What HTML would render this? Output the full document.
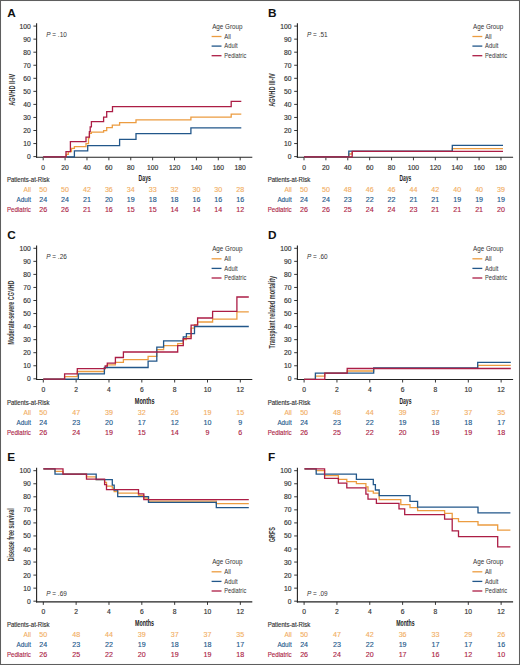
<!DOCTYPE html><html><head><meta charset="utf-8"><style>html,body{margin:0;padding:0;background:#fff;}svg{display:block;}text{font-family:"Liberation Sans", sans-serif;}</style></head><body>
<svg width="520" height="665" viewBox="0 0 520 665">
<rect x="0" y="0" width="520" height="665" fill="#fff"/>
<text x="7.30" y="16.70" font-size="11.8" text-anchor="start" fill="#111" font-weight="bold">A</text>
<line x1="36.60" y1="23.20" x2="36.60" y2="157.80" stroke="#222" stroke-width="1.1"/>
<line x1="33.40" y1="26.10" x2="36.60" y2="26.10" stroke="#222" stroke-width="0.9"/>
<text x="30.80" y="28.60" font-size="6.5" text-anchor="end" fill="#333" textLength="11.25" lengthAdjust="spacingAndGlyphs" stroke="#333" stroke-width="0.15">100</text>
<line x1="33.40" y1="39.15" x2="36.60" y2="39.15" stroke="#222" stroke-width="0.9"/>
<text x="30.80" y="41.65" font-size="6.5" text-anchor="end" fill="#333" textLength="7.50" lengthAdjust="spacingAndGlyphs" stroke="#333" stroke-width="0.15">90</text>
<line x1="33.40" y1="52.20" x2="36.60" y2="52.20" stroke="#222" stroke-width="0.9"/>
<text x="30.80" y="54.70" font-size="6.5" text-anchor="end" fill="#333" textLength="7.50" lengthAdjust="spacingAndGlyphs" stroke="#333" stroke-width="0.15">80</text>
<line x1="33.40" y1="65.25" x2="36.60" y2="65.25" stroke="#222" stroke-width="0.9"/>
<text x="30.80" y="67.75" font-size="6.5" text-anchor="end" fill="#333" textLength="7.50" lengthAdjust="spacingAndGlyphs" stroke="#333" stroke-width="0.15">70</text>
<line x1="33.40" y1="78.30" x2="36.60" y2="78.30" stroke="#222" stroke-width="0.9"/>
<text x="30.80" y="80.80" font-size="6.5" text-anchor="end" fill="#333" textLength="7.50" lengthAdjust="spacingAndGlyphs" stroke="#333" stroke-width="0.15">60</text>
<line x1="33.40" y1="91.35" x2="36.60" y2="91.35" stroke="#222" stroke-width="0.9"/>
<text x="30.80" y="93.85" font-size="6.5" text-anchor="end" fill="#333" textLength="7.50" lengthAdjust="spacingAndGlyphs" stroke="#333" stroke-width="0.15">50</text>
<line x1="33.40" y1="104.40" x2="36.60" y2="104.40" stroke="#222" stroke-width="0.9"/>
<text x="30.80" y="106.90" font-size="6.5" text-anchor="end" fill="#333" textLength="7.50" lengthAdjust="spacingAndGlyphs" stroke="#333" stroke-width="0.15">40</text>
<line x1="33.40" y1="117.45" x2="36.60" y2="117.45" stroke="#222" stroke-width="0.9"/>
<text x="30.80" y="119.95" font-size="6.5" text-anchor="end" fill="#333" textLength="7.50" lengthAdjust="spacingAndGlyphs" stroke="#333" stroke-width="0.15">30</text>
<line x1="33.40" y1="130.50" x2="36.60" y2="130.50" stroke="#222" stroke-width="0.9"/>
<text x="30.80" y="133.00" font-size="6.5" text-anchor="end" fill="#333" textLength="7.50" lengthAdjust="spacingAndGlyphs" stroke="#333" stroke-width="0.15">20</text>
<line x1="33.40" y1="143.55" x2="36.60" y2="143.55" stroke="#222" stroke-width="0.9"/>
<text x="30.80" y="146.05" font-size="6.5" text-anchor="end" fill="#333" textLength="7.50" lengthAdjust="spacingAndGlyphs" stroke="#333" stroke-width="0.15">10</text>
<line x1="33.40" y1="156.60" x2="36.60" y2="156.60" stroke="#222" stroke-width="0.9"/>
<text x="30.80" y="159.10" font-size="6.5" text-anchor="end" fill="#333" textLength="3.75" lengthAdjust="spacingAndGlyphs" stroke="#333" stroke-width="0.15">0</text>
<line x1="36.10" y1="157.30" x2="252.30" y2="157.30" stroke="#222" stroke-width="1.1"/>
<line x1="43.20" y1="157.30" x2="43.20" y2="160.30" stroke="#222" stroke-width="0.9"/>
<text x="43.20" y="170.00" font-size="6.5" text-anchor="middle" fill="#333" textLength="3.75" lengthAdjust="spacingAndGlyphs" stroke="#333" stroke-width="0.15">0</text>
<line x1="65.09" y1="157.30" x2="65.09" y2="160.30" stroke="#222" stroke-width="0.9"/>
<text x="65.09" y="170.00" font-size="6.5" text-anchor="middle" fill="#333" textLength="7.50" lengthAdjust="spacingAndGlyphs" stroke="#333" stroke-width="0.15">20</text>
<line x1="86.98" y1="157.30" x2="86.98" y2="160.30" stroke="#222" stroke-width="0.9"/>
<text x="86.98" y="170.00" font-size="6.5" text-anchor="middle" fill="#333" textLength="7.50" lengthAdjust="spacingAndGlyphs" stroke="#333" stroke-width="0.15">40</text>
<line x1="108.86" y1="157.30" x2="108.86" y2="160.30" stroke="#222" stroke-width="0.9"/>
<text x="108.86" y="170.00" font-size="6.5" text-anchor="middle" fill="#333" textLength="7.50" lengthAdjust="spacingAndGlyphs" stroke="#333" stroke-width="0.15">60</text>
<line x1="130.75" y1="157.30" x2="130.75" y2="160.30" stroke="#222" stroke-width="0.9"/>
<text x="130.75" y="170.00" font-size="6.5" text-anchor="middle" fill="#333" textLength="7.50" lengthAdjust="spacingAndGlyphs" stroke="#333" stroke-width="0.15">80</text>
<line x1="152.64" y1="157.30" x2="152.64" y2="160.30" stroke="#222" stroke-width="0.9"/>
<text x="152.64" y="170.00" font-size="6.5" text-anchor="middle" fill="#333" textLength="11.25" lengthAdjust="spacingAndGlyphs" stroke="#333" stroke-width="0.15">100</text>
<line x1="174.53" y1="157.30" x2="174.53" y2="160.30" stroke="#222" stroke-width="0.9"/>
<text x="174.53" y="170.00" font-size="6.5" text-anchor="middle" fill="#333" textLength="11.25" lengthAdjust="spacingAndGlyphs" stroke="#333" stroke-width="0.15">120</text>
<line x1="196.42" y1="157.30" x2="196.42" y2="160.30" stroke="#222" stroke-width="0.9"/>
<text x="196.42" y="170.00" font-size="6.5" text-anchor="middle" fill="#333" textLength="11.25" lengthAdjust="spacingAndGlyphs" stroke="#333" stroke-width="0.15">140</text>
<line x1="218.30" y1="157.30" x2="218.30" y2="160.30" stroke="#222" stroke-width="0.9"/>
<text x="218.30" y="170.00" font-size="6.5" text-anchor="middle" fill="#333" textLength="11.25" lengthAdjust="spacingAndGlyphs" stroke="#333" stroke-width="0.15">160</text>
<line x1="240.19" y1="157.30" x2="240.19" y2="160.30" stroke="#222" stroke-width="0.9"/>
<text x="240.19" y="170.00" font-size="6.5" text-anchor="middle" fill="#333" textLength="11.25" lengthAdjust="spacingAndGlyphs" stroke="#333" stroke-width="0.15">180</text>
<text x="138.60" y="181.30" font-size="8.4" text-anchor="start" fill="#222" font-weight="bold" textLength="12.40" lengthAdjust="spacingAndGlyphs">Days</text>
<text transform="translate(14.50,89.75) rotate(-90)" x="0" y="0" font-size="8.6" font-weight="bold" text-anchor="middle" fill="#3a3a3a" textLength="32.10" lengthAdjust="spacingAndGlyphs">AGVHD II-IV</text>
<text x="46.20" y="36.90" font-size="6.7" fill="#333" textLength="20.6" lengthAdjust="spacingAndGlyphs"><tspan font-style="italic">P</tspan> = .10</text>
<text x="212.20" y="28.70" font-size="6.5" text-anchor="start" fill="#333" textLength="30.30" lengthAdjust="spacingAndGlyphs">Age Group</text>
<line x1="211.60" y1="36.50" x2="221.50" y2="36.50" stroke="#EC9C40" stroke-width="1.3"/>
<text x="224.30" y="38.70" font-size="6.6" text-anchor="start" fill="#333" textLength="6.60" lengthAdjust="spacingAndGlyphs">All</text>
<line x1="211.60" y1="46.10" x2="221.50" y2="46.10" stroke="#22578A" stroke-width="1.3"/>
<text x="224.30" y="48.30" font-size="6.6" text-anchor="start" fill="#333" textLength="13.30" lengthAdjust="spacingAndGlyphs">Adult</text>
<line x1="211.60" y1="55.70" x2="221.50" y2="55.70" stroke="#AC1D45" stroke-width="1.3"/>
<text x="224.30" y="57.90" font-size="6.6" text-anchor="start" fill="#333" textLength="22.00" lengthAdjust="spacingAndGlyphs">Pediatric</text>
<text x="6.90" y="181.80" font-size="6.4" text-anchor="start" fill="#333" textLength="42.70" lengthAdjust="spacingAndGlyphs" stroke="#333" stroke-width="0.15">Patients-at-Risk</text>
<text x="30.90" y="191.70" font-size="6.6" text-anchor="end" fill="#F2AE62" textLength="7.30" lengthAdjust="spacingAndGlyphs" stroke="#F2AE62" stroke-width="0.12">All</text>
<text x="43.20" y="191.70" font-size="6.4" text-anchor="middle" fill="#F2AE62" textLength="7.90" lengthAdjust="spacingAndGlyphs" stroke="#F2AE62" stroke-width="0.12">50</text>
<text x="65.09" y="191.70" font-size="6.4" text-anchor="middle" fill="#F2AE62" textLength="7.90" lengthAdjust="spacingAndGlyphs" stroke="#F2AE62" stroke-width="0.12">50</text>
<text x="86.98" y="191.70" font-size="6.4" text-anchor="middle" fill="#F2AE62" textLength="7.90" lengthAdjust="spacingAndGlyphs" stroke="#F2AE62" stroke-width="0.12">42</text>
<text x="108.86" y="191.70" font-size="6.4" text-anchor="middle" fill="#F2AE62" textLength="7.90" lengthAdjust="spacingAndGlyphs" stroke="#F2AE62" stroke-width="0.12">36</text>
<text x="130.75" y="191.70" font-size="6.4" text-anchor="middle" fill="#F2AE62" textLength="7.90" lengthAdjust="spacingAndGlyphs" stroke="#F2AE62" stroke-width="0.12">34</text>
<text x="152.64" y="191.70" font-size="6.4" text-anchor="middle" fill="#F2AE62" textLength="7.90" lengthAdjust="spacingAndGlyphs" stroke="#F2AE62" stroke-width="0.12">33</text>
<text x="174.53" y="191.70" font-size="6.4" text-anchor="middle" fill="#F2AE62" textLength="7.90" lengthAdjust="spacingAndGlyphs" stroke="#F2AE62" stroke-width="0.12">32</text>
<text x="196.42" y="191.70" font-size="6.4" text-anchor="middle" fill="#F2AE62" textLength="7.90" lengthAdjust="spacingAndGlyphs" stroke="#F2AE62" stroke-width="0.12">30</text>
<text x="218.30" y="191.70" font-size="6.4" text-anchor="middle" fill="#F2AE62" textLength="7.90" lengthAdjust="spacingAndGlyphs" stroke="#F2AE62" stroke-width="0.12">30</text>
<text x="240.19" y="191.70" font-size="6.4" text-anchor="middle" fill="#F2AE62" textLength="7.90" lengthAdjust="spacingAndGlyphs" stroke="#F2AE62" stroke-width="0.12">28</text>
<text x="30.90" y="201.75" font-size="6.6" text-anchor="end" fill="#22578A" textLength="14.30" lengthAdjust="spacingAndGlyphs" stroke="#22578A" stroke-width="0.12">Adult</text>
<text x="43.20" y="201.75" font-size="6.4" text-anchor="middle" fill="#22578A" textLength="7.90" lengthAdjust="spacingAndGlyphs" stroke="#22578A" stroke-width="0.12">24</text>
<text x="65.09" y="201.75" font-size="6.4" text-anchor="middle" fill="#22578A" textLength="7.90" lengthAdjust="spacingAndGlyphs" stroke="#22578A" stroke-width="0.12">24</text>
<text x="86.98" y="201.75" font-size="6.4" text-anchor="middle" fill="#22578A" textLength="7.90" lengthAdjust="spacingAndGlyphs" stroke="#22578A" stroke-width="0.12">21</text>
<text x="108.86" y="201.75" font-size="6.4" text-anchor="middle" fill="#22578A" textLength="7.90" lengthAdjust="spacingAndGlyphs" stroke="#22578A" stroke-width="0.12">20</text>
<text x="130.75" y="201.75" font-size="6.4" text-anchor="middle" fill="#22578A" textLength="7.90" lengthAdjust="spacingAndGlyphs" stroke="#22578A" stroke-width="0.12">19</text>
<text x="152.64" y="201.75" font-size="6.4" text-anchor="middle" fill="#22578A" textLength="7.90" lengthAdjust="spacingAndGlyphs" stroke="#22578A" stroke-width="0.12">18</text>
<text x="174.53" y="201.75" font-size="6.4" text-anchor="middle" fill="#22578A" textLength="7.90" lengthAdjust="spacingAndGlyphs" stroke="#22578A" stroke-width="0.12">18</text>
<text x="196.42" y="201.75" font-size="6.4" text-anchor="middle" fill="#22578A" textLength="7.90" lengthAdjust="spacingAndGlyphs" stroke="#22578A" stroke-width="0.12">16</text>
<text x="218.30" y="201.75" font-size="6.4" text-anchor="middle" fill="#22578A" textLength="7.90" lengthAdjust="spacingAndGlyphs" stroke="#22578A" stroke-width="0.12">16</text>
<text x="240.19" y="201.75" font-size="6.4" text-anchor="middle" fill="#22578A" textLength="7.90" lengthAdjust="spacingAndGlyphs" stroke="#22578A" stroke-width="0.12">16</text>
<text x="30.90" y="211.80" font-size="6.6" text-anchor="end" fill="#AC1D45" textLength="24.00" lengthAdjust="spacingAndGlyphs" stroke="#AC1D45" stroke-width="0.12">Pediatric</text>
<text x="43.20" y="211.80" font-size="6.4" text-anchor="middle" fill="#AC1D45" textLength="7.90" lengthAdjust="spacingAndGlyphs" stroke="#AC1D45" stroke-width="0.12">26</text>
<text x="65.09" y="211.80" font-size="6.4" text-anchor="middle" fill="#AC1D45" textLength="7.90" lengthAdjust="spacingAndGlyphs" stroke="#AC1D45" stroke-width="0.12">26</text>
<text x="86.98" y="211.80" font-size="6.4" text-anchor="middle" fill="#AC1D45" textLength="7.90" lengthAdjust="spacingAndGlyphs" stroke="#AC1D45" stroke-width="0.12">21</text>
<text x="108.86" y="211.80" font-size="6.4" text-anchor="middle" fill="#AC1D45" textLength="7.90" lengthAdjust="spacingAndGlyphs" stroke="#AC1D45" stroke-width="0.12">16</text>
<text x="130.75" y="211.80" font-size="6.4" text-anchor="middle" fill="#AC1D45" textLength="7.90" lengthAdjust="spacingAndGlyphs" stroke="#AC1D45" stroke-width="0.12">15</text>
<text x="152.64" y="211.80" font-size="6.4" text-anchor="middle" fill="#AC1D45" textLength="7.90" lengthAdjust="spacingAndGlyphs" stroke="#AC1D45" stroke-width="0.12">15</text>
<text x="174.53" y="211.80" font-size="6.4" text-anchor="middle" fill="#AC1D45" textLength="7.90" lengthAdjust="spacingAndGlyphs" stroke="#AC1D45" stroke-width="0.12">14</text>
<text x="196.42" y="211.80" font-size="6.4" text-anchor="middle" fill="#AC1D45" textLength="7.90" lengthAdjust="spacingAndGlyphs" stroke="#AC1D45" stroke-width="0.12">14</text>
<text x="218.30" y="211.80" font-size="6.4" text-anchor="middle" fill="#AC1D45" textLength="7.90" lengthAdjust="spacingAndGlyphs" stroke="#AC1D45" stroke-width="0.12">14</text>
<text x="240.19" y="211.80" font-size="6.4" text-anchor="middle" fill="#AC1D45" textLength="7.90" lengthAdjust="spacingAndGlyphs" stroke="#AC1D45" stroke-width="0.12">12</text>
<path d="M43.20,156.90 H66.30 V154.40 H68.30 V151.70 H71.50 V148.30 H74.40 V146.60 H86.00 V143.70 H88.50 V137.90 H89.40 V133.30 H91.40 V132.10 H103.60 V130.60 H106.70 V127.70 H112.30 V125.10 H119.60 V122.70 H136.00 V119.80 H190.90 V117.20 H231.20 V114.10 H241.30" fill="none" stroke="#EC9C40" stroke-width="1.3" stroke-linejoin="miter"/>
<path d="M43.20,156.90 H74.40 V150.80 H87.70 V145.70 H119.60 V139.40 H136.00 V133.70 H190.90 V127.90 H241.30" fill="none" stroke="#22578A" stroke-width="1.3" stroke-linejoin="miter"/>
<path d="M43.20,156.90 H66.00 V151.70 H70.40 V141.60 H86.00 V137.10 H89.40 V131.60 H90.20 V126.90 H91.40 V121.70 H103.60 V117.10 H106.70 V111.70 H112.50 V106.60 H231.20 V101.40 H241.30" fill="none" stroke="#AC1D45" stroke-width="1.3" stroke-linejoin="miter"/>
<text x="268.10" y="16.70" font-size="11.8" text-anchor="start" fill="#111" font-weight="bold">B</text>
<line x1="297.40" y1="23.20" x2="297.40" y2="157.80" stroke="#222" stroke-width="1.1"/>
<line x1="294.20" y1="26.10" x2="297.40" y2="26.10" stroke="#222" stroke-width="0.9"/>
<text x="291.60" y="28.60" font-size="6.5" text-anchor="end" fill="#333" textLength="11.25" lengthAdjust="spacingAndGlyphs" stroke="#333" stroke-width="0.15">100</text>
<line x1="294.20" y1="39.15" x2="297.40" y2="39.15" stroke="#222" stroke-width="0.9"/>
<text x="291.60" y="41.65" font-size="6.5" text-anchor="end" fill="#333" textLength="7.50" lengthAdjust="spacingAndGlyphs" stroke="#333" stroke-width="0.15">90</text>
<line x1="294.20" y1="52.20" x2="297.40" y2="52.20" stroke="#222" stroke-width="0.9"/>
<text x="291.60" y="54.70" font-size="6.5" text-anchor="end" fill="#333" textLength="7.50" lengthAdjust="spacingAndGlyphs" stroke="#333" stroke-width="0.15">80</text>
<line x1="294.20" y1="65.25" x2="297.40" y2="65.25" stroke="#222" stroke-width="0.9"/>
<text x="291.60" y="67.75" font-size="6.5" text-anchor="end" fill="#333" textLength="7.50" lengthAdjust="spacingAndGlyphs" stroke="#333" stroke-width="0.15">70</text>
<line x1="294.20" y1="78.30" x2="297.40" y2="78.30" stroke="#222" stroke-width="0.9"/>
<text x="291.60" y="80.80" font-size="6.5" text-anchor="end" fill="#333" textLength="7.50" lengthAdjust="spacingAndGlyphs" stroke="#333" stroke-width="0.15">60</text>
<line x1="294.20" y1="91.35" x2="297.40" y2="91.35" stroke="#222" stroke-width="0.9"/>
<text x="291.60" y="93.85" font-size="6.5" text-anchor="end" fill="#333" textLength="7.50" lengthAdjust="spacingAndGlyphs" stroke="#333" stroke-width="0.15">50</text>
<line x1="294.20" y1="104.40" x2="297.40" y2="104.40" stroke="#222" stroke-width="0.9"/>
<text x="291.60" y="106.90" font-size="6.5" text-anchor="end" fill="#333" textLength="7.50" lengthAdjust="spacingAndGlyphs" stroke="#333" stroke-width="0.15">40</text>
<line x1="294.20" y1="117.45" x2="297.40" y2="117.45" stroke="#222" stroke-width="0.9"/>
<text x="291.60" y="119.95" font-size="6.5" text-anchor="end" fill="#333" textLength="7.50" lengthAdjust="spacingAndGlyphs" stroke="#333" stroke-width="0.15">30</text>
<line x1="294.20" y1="130.50" x2="297.40" y2="130.50" stroke="#222" stroke-width="0.9"/>
<text x="291.60" y="133.00" font-size="6.5" text-anchor="end" fill="#333" textLength="7.50" lengthAdjust="spacingAndGlyphs" stroke="#333" stroke-width="0.15">20</text>
<line x1="294.20" y1="143.55" x2="297.40" y2="143.55" stroke="#222" stroke-width="0.9"/>
<text x="291.60" y="146.05" font-size="6.5" text-anchor="end" fill="#333" textLength="7.50" lengthAdjust="spacingAndGlyphs" stroke="#333" stroke-width="0.15">10</text>
<line x1="294.20" y1="156.60" x2="297.40" y2="156.60" stroke="#222" stroke-width="0.9"/>
<text x="291.60" y="159.10" font-size="6.5" text-anchor="end" fill="#333" textLength="3.75" lengthAdjust="spacingAndGlyphs" stroke="#333" stroke-width="0.15">0</text>
<line x1="296.90" y1="157.30" x2="513.10" y2="157.30" stroke="#222" stroke-width="1.1"/>
<line x1="304.00" y1="157.30" x2="304.00" y2="160.30" stroke="#222" stroke-width="0.9"/>
<text x="304.00" y="170.00" font-size="6.5" text-anchor="middle" fill="#333" textLength="3.75" lengthAdjust="spacingAndGlyphs" stroke="#333" stroke-width="0.15">0</text>
<line x1="325.89" y1="157.30" x2="325.89" y2="160.30" stroke="#222" stroke-width="0.9"/>
<text x="325.89" y="170.00" font-size="6.5" text-anchor="middle" fill="#333" textLength="7.50" lengthAdjust="spacingAndGlyphs" stroke="#333" stroke-width="0.15">20</text>
<line x1="347.78" y1="157.30" x2="347.78" y2="160.30" stroke="#222" stroke-width="0.9"/>
<text x="347.78" y="170.00" font-size="6.5" text-anchor="middle" fill="#333" textLength="7.50" lengthAdjust="spacingAndGlyphs" stroke="#333" stroke-width="0.15">40</text>
<line x1="369.66" y1="157.30" x2="369.66" y2="160.30" stroke="#222" stroke-width="0.9"/>
<text x="369.66" y="170.00" font-size="6.5" text-anchor="middle" fill="#333" textLength="7.50" lengthAdjust="spacingAndGlyphs" stroke="#333" stroke-width="0.15">60</text>
<line x1="391.55" y1="157.30" x2="391.55" y2="160.30" stroke="#222" stroke-width="0.9"/>
<text x="391.55" y="170.00" font-size="6.5" text-anchor="middle" fill="#333" textLength="7.50" lengthAdjust="spacingAndGlyphs" stroke="#333" stroke-width="0.15">80</text>
<line x1="413.44" y1="157.30" x2="413.44" y2="160.30" stroke="#222" stroke-width="0.9"/>
<text x="413.44" y="170.00" font-size="6.5" text-anchor="middle" fill="#333" textLength="11.25" lengthAdjust="spacingAndGlyphs" stroke="#333" stroke-width="0.15">100</text>
<line x1="435.33" y1="157.30" x2="435.33" y2="160.30" stroke="#222" stroke-width="0.9"/>
<text x="435.33" y="170.00" font-size="6.5" text-anchor="middle" fill="#333" textLength="11.25" lengthAdjust="spacingAndGlyphs" stroke="#333" stroke-width="0.15">120</text>
<line x1="457.22" y1="157.30" x2="457.22" y2="160.30" stroke="#222" stroke-width="0.9"/>
<text x="457.22" y="170.00" font-size="6.5" text-anchor="middle" fill="#333" textLength="11.25" lengthAdjust="spacingAndGlyphs" stroke="#333" stroke-width="0.15">140</text>
<line x1="479.10" y1="157.30" x2="479.10" y2="160.30" stroke="#222" stroke-width="0.9"/>
<text x="479.10" y="170.00" font-size="6.5" text-anchor="middle" fill="#333" textLength="11.25" lengthAdjust="spacingAndGlyphs" stroke="#333" stroke-width="0.15">160</text>
<line x1="500.99" y1="157.30" x2="500.99" y2="160.30" stroke="#222" stroke-width="0.9"/>
<text x="500.99" y="170.00" font-size="6.5" text-anchor="middle" fill="#333" textLength="11.25" lengthAdjust="spacingAndGlyphs" stroke="#333" stroke-width="0.15">180</text>
<text x="399.40" y="181.30" font-size="8.4" text-anchor="start" fill="#222" font-weight="bold" textLength="11.90" lengthAdjust="spacingAndGlyphs">Days</text>
<text transform="translate(275.10,90.00) rotate(-90)" x="0" y="0" font-size="8.6" font-weight="bold" text-anchor="middle" fill="#3a3a3a" textLength="33.60" lengthAdjust="spacingAndGlyphs">AGVHD III-IV</text>
<text x="307.00" y="36.90" font-size="6.7" fill="#333" textLength="20.6" lengthAdjust="spacingAndGlyphs"><tspan font-style="italic">P</tspan> = .51</text>
<text x="473.00" y="28.70" font-size="6.5" text-anchor="start" fill="#333" textLength="30.30" lengthAdjust="spacingAndGlyphs">Age Group</text>
<line x1="472.40" y1="36.50" x2="482.30" y2="36.50" stroke="#EC9C40" stroke-width="1.3"/>
<text x="485.10" y="38.70" font-size="6.6" text-anchor="start" fill="#333" textLength="6.60" lengthAdjust="spacingAndGlyphs">All</text>
<line x1="472.40" y1="46.10" x2="482.30" y2="46.10" stroke="#22578A" stroke-width="1.3"/>
<text x="485.10" y="48.30" font-size="6.6" text-anchor="start" fill="#333" textLength="13.30" lengthAdjust="spacingAndGlyphs">Adult</text>
<line x1="472.40" y1="55.70" x2="482.30" y2="55.70" stroke="#AC1D45" stroke-width="1.3"/>
<text x="485.10" y="57.90" font-size="6.6" text-anchor="start" fill="#333" textLength="22.00" lengthAdjust="spacingAndGlyphs">Pediatric</text>
<text x="267.70" y="181.80" font-size="6.4" text-anchor="start" fill="#333" textLength="42.70" lengthAdjust="spacingAndGlyphs" stroke="#333" stroke-width="0.15">Patients-at-Risk</text>
<text x="291.70" y="191.70" font-size="6.6" text-anchor="end" fill="#F2AE62" textLength="7.30" lengthAdjust="spacingAndGlyphs" stroke="#F2AE62" stroke-width="0.12">All</text>
<text x="304.00" y="191.70" font-size="6.4" text-anchor="middle" fill="#F2AE62" textLength="7.90" lengthAdjust="spacingAndGlyphs" stroke="#F2AE62" stroke-width="0.12">50</text>
<text x="325.89" y="191.70" font-size="6.4" text-anchor="middle" fill="#F2AE62" textLength="7.90" lengthAdjust="spacingAndGlyphs" stroke="#F2AE62" stroke-width="0.12">50</text>
<text x="347.78" y="191.70" font-size="6.4" text-anchor="middle" fill="#F2AE62" textLength="7.90" lengthAdjust="spacingAndGlyphs" stroke="#F2AE62" stroke-width="0.12">48</text>
<text x="369.66" y="191.70" font-size="6.4" text-anchor="middle" fill="#F2AE62" textLength="7.90" lengthAdjust="spacingAndGlyphs" stroke="#F2AE62" stroke-width="0.12">46</text>
<text x="391.55" y="191.70" font-size="6.4" text-anchor="middle" fill="#F2AE62" textLength="7.90" lengthAdjust="spacingAndGlyphs" stroke="#F2AE62" stroke-width="0.12">46</text>
<text x="413.44" y="191.70" font-size="6.4" text-anchor="middle" fill="#F2AE62" textLength="7.90" lengthAdjust="spacingAndGlyphs" stroke="#F2AE62" stroke-width="0.12">44</text>
<text x="435.33" y="191.70" font-size="6.4" text-anchor="middle" fill="#F2AE62" textLength="7.90" lengthAdjust="spacingAndGlyphs" stroke="#F2AE62" stroke-width="0.12">42</text>
<text x="457.22" y="191.70" font-size="6.4" text-anchor="middle" fill="#F2AE62" textLength="7.90" lengthAdjust="spacingAndGlyphs" stroke="#F2AE62" stroke-width="0.12">40</text>
<text x="479.10" y="191.70" font-size="6.4" text-anchor="middle" fill="#F2AE62" textLength="7.90" lengthAdjust="spacingAndGlyphs" stroke="#F2AE62" stroke-width="0.12">40</text>
<text x="500.99" y="191.70" font-size="6.4" text-anchor="middle" fill="#F2AE62" textLength="7.90" lengthAdjust="spacingAndGlyphs" stroke="#F2AE62" stroke-width="0.12">39</text>
<text x="291.70" y="201.75" font-size="6.6" text-anchor="end" fill="#22578A" textLength="14.30" lengthAdjust="spacingAndGlyphs" stroke="#22578A" stroke-width="0.12">Adult</text>
<text x="304.00" y="201.75" font-size="6.4" text-anchor="middle" fill="#22578A" textLength="7.90" lengthAdjust="spacingAndGlyphs" stroke="#22578A" stroke-width="0.12">24</text>
<text x="325.89" y="201.75" font-size="6.4" text-anchor="middle" fill="#22578A" textLength="7.90" lengthAdjust="spacingAndGlyphs" stroke="#22578A" stroke-width="0.12">24</text>
<text x="347.78" y="201.75" font-size="6.4" text-anchor="middle" fill="#22578A" textLength="7.90" lengthAdjust="spacingAndGlyphs" stroke="#22578A" stroke-width="0.12">23</text>
<text x="369.66" y="201.75" font-size="6.4" text-anchor="middle" fill="#22578A" textLength="7.90" lengthAdjust="spacingAndGlyphs" stroke="#22578A" stroke-width="0.12">22</text>
<text x="391.55" y="201.75" font-size="6.4" text-anchor="middle" fill="#22578A" textLength="7.90" lengthAdjust="spacingAndGlyphs" stroke="#22578A" stroke-width="0.12">22</text>
<text x="413.44" y="201.75" font-size="6.4" text-anchor="middle" fill="#22578A" textLength="7.90" lengthAdjust="spacingAndGlyphs" stroke="#22578A" stroke-width="0.12">21</text>
<text x="435.33" y="201.75" font-size="6.4" text-anchor="middle" fill="#22578A" textLength="7.90" lengthAdjust="spacingAndGlyphs" stroke="#22578A" stroke-width="0.12">21</text>
<text x="457.22" y="201.75" font-size="6.4" text-anchor="middle" fill="#22578A" textLength="7.90" lengthAdjust="spacingAndGlyphs" stroke="#22578A" stroke-width="0.12">19</text>
<text x="479.10" y="201.75" font-size="6.4" text-anchor="middle" fill="#22578A" textLength="7.90" lengthAdjust="spacingAndGlyphs" stroke="#22578A" stroke-width="0.12">19</text>
<text x="500.99" y="201.75" font-size="6.4" text-anchor="middle" fill="#22578A" textLength="7.90" lengthAdjust="spacingAndGlyphs" stroke="#22578A" stroke-width="0.12">19</text>
<text x="291.70" y="211.80" font-size="6.6" text-anchor="end" fill="#AC1D45" textLength="24.00" lengthAdjust="spacingAndGlyphs" stroke="#AC1D45" stroke-width="0.12">Pediatric</text>
<text x="304.00" y="211.80" font-size="6.4" text-anchor="middle" fill="#AC1D45" textLength="7.90" lengthAdjust="spacingAndGlyphs" stroke="#AC1D45" stroke-width="0.12">26</text>
<text x="325.89" y="211.80" font-size="6.4" text-anchor="middle" fill="#AC1D45" textLength="7.90" lengthAdjust="spacingAndGlyphs" stroke="#AC1D45" stroke-width="0.12">26</text>
<text x="347.78" y="211.80" font-size="6.4" text-anchor="middle" fill="#AC1D45" textLength="7.90" lengthAdjust="spacingAndGlyphs" stroke="#AC1D45" stroke-width="0.12">25</text>
<text x="369.66" y="211.80" font-size="6.4" text-anchor="middle" fill="#AC1D45" textLength="7.90" lengthAdjust="spacingAndGlyphs" stroke="#AC1D45" stroke-width="0.12">24</text>
<text x="391.55" y="211.80" font-size="6.4" text-anchor="middle" fill="#AC1D45" textLength="7.90" lengthAdjust="spacingAndGlyphs" stroke="#AC1D45" stroke-width="0.12">24</text>
<text x="413.44" y="211.80" font-size="6.4" text-anchor="middle" fill="#AC1D45" textLength="7.90" lengthAdjust="spacingAndGlyphs" stroke="#AC1D45" stroke-width="0.12">23</text>
<text x="435.33" y="211.80" font-size="6.4" text-anchor="middle" fill="#AC1D45" textLength="7.90" lengthAdjust="spacingAndGlyphs" stroke="#AC1D45" stroke-width="0.12">21</text>
<text x="457.22" y="211.80" font-size="6.4" text-anchor="middle" fill="#AC1D45" textLength="7.90" lengthAdjust="spacingAndGlyphs" stroke="#AC1D45" stroke-width="0.12">21</text>
<text x="479.10" y="211.80" font-size="6.4" text-anchor="middle" fill="#AC1D45" textLength="7.90" lengthAdjust="spacingAndGlyphs" stroke="#AC1D45" stroke-width="0.12">21</text>
<text x="500.99" y="211.80" font-size="6.4" text-anchor="middle" fill="#AC1D45" textLength="7.90" lengthAdjust="spacingAndGlyphs" stroke="#AC1D45" stroke-width="0.12">20</text>
<path d="M304.00,156.90 H348.80 V154.00 H352.20 V151.40 H452.30 V148.70 H503.00" fill="none" stroke="#EC9C40" stroke-width="1.3" stroke-linejoin="miter"/>
<path d="M304.00,156.90 H348.80 V151.20 H452.30 V145.40 H503.00" fill="none" stroke="#22578A" stroke-width="1.3" stroke-linejoin="miter"/>
<path d="M304.00,156.90 H352.20 V151.40 H503.00" fill="none" stroke="#AC1D45" stroke-width="1.3" stroke-linejoin="miter"/>
<text x="7.30" y="238.90" font-size="11.8" text-anchor="start" fill="#111" font-weight="bold">C</text>
<line x1="36.60" y1="245.40" x2="36.60" y2="380.00" stroke="#222" stroke-width="1.1"/>
<line x1="33.40" y1="248.30" x2="36.60" y2="248.30" stroke="#222" stroke-width="0.9"/>
<text x="30.80" y="250.80" font-size="6.5" text-anchor="end" fill="#333" textLength="11.25" lengthAdjust="spacingAndGlyphs" stroke="#333" stroke-width="0.15">100</text>
<line x1="33.40" y1="261.35" x2="36.60" y2="261.35" stroke="#222" stroke-width="0.9"/>
<text x="30.80" y="263.85" font-size="6.5" text-anchor="end" fill="#333" textLength="7.50" lengthAdjust="spacingAndGlyphs" stroke="#333" stroke-width="0.15">90</text>
<line x1="33.40" y1="274.40" x2="36.60" y2="274.40" stroke="#222" stroke-width="0.9"/>
<text x="30.80" y="276.90" font-size="6.5" text-anchor="end" fill="#333" textLength="7.50" lengthAdjust="spacingAndGlyphs" stroke="#333" stroke-width="0.15">80</text>
<line x1="33.40" y1="287.45" x2="36.60" y2="287.45" stroke="#222" stroke-width="0.9"/>
<text x="30.80" y="289.95" font-size="6.5" text-anchor="end" fill="#333" textLength="7.50" lengthAdjust="spacingAndGlyphs" stroke="#333" stroke-width="0.15">70</text>
<line x1="33.40" y1="300.50" x2="36.60" y2="300.50" stroke="#222" stroke-width="0.9"/>
<text x="30.80" y="303.00" font-size="6.5" text-anchor="end" fill="#333" textLength="7.50" lengthAdjust="spacingAndGlyphs" stroke="#333" stroke-width="0.15">60</text>
<line x1="33.40" y1="313.55" x2="36.60" y2="313.55" stroke="#222" stroke-width="0.9"/>
<text x="30.80" y="316.05" font-size="6.5" text-anchor="end" fill="#333" textLength="7.50" lengthAdjust="spacingAndGlyphs" stroke="#333" stroke-width="0.15">50</text>
<line x1="33.40" y1="326.60" x2="36.60" y2="326.60" stroke="#222" stroke-width="0.9"/>
<text x="30.80" y="329.10" font-size="6.5" text-anchor="end" fill="#333" textLength="7.50" lengthAdjust="spacingAndGlyphs" stroke="#333" stroke-width="0.15">40</text>
<line x1="33.40" y1="339.65" x2="36.60" y2="339.65" stroke="#222" stroke-width="0.9"/>
<text x="30.80" y="342.15" font-size="6.5" text-anchor="end" fill="#333" textLength="7.50" lengthAdjust="spacingAndGlyphs" stroke="#333" stroke-width="0.15">30</text>
<line x1="33.40" y1="352.70" x2="36.60" y2="352.70" stroke="#222" stroke-width="0.9"/>
<text x="30.80" y="355.20" font-size="6.5" text-anchor="end" fill="#333" textLength="7.50" lengthAdjust="spacingAndGlyphs" stroke="#333" stroke-width="0.15">20</text>
<line x1="33.40" y1="365.75" x2="36.60" y2="365.75" stroke="#222" stroke-width="0.9"/>
<text x="30.80" y="368.25" font-size="6.5" text-anchor="end" fill="#333" textLength="7.50" lengthAdjust="spacingAndGlyphs" stroke="#333" stroke-width="0.15">10</text>
<line x1="33.40" y1="378.80" x2="36.60" y2="378.80" stroke="#222" stroke-width="0.9"/>
<text x="30.80" y="381.30" font-size="6.5" text-anchor="end" fill="#333" textLength="3.75" lengthAdjust="spacingAndGlyphs" stroke="#333" stroke-width="0.15">0</text>
<line x1="36.10" y1="379.50" x2="252.30" y2="379.50" stroke="#222" stroke-width="1.1"/>
<line x1="43.30" y1="379.50" x2="43.30" y2="382.50" stroke="#222" stroke-width="0.9"/>
<text x="43.30" y="392.20" font-size="6.5" text-anchor="middle" fill="#333" textLength="3.75" lengthAdjust="spacingAndGlyphs" stroke="#333" stroke-width="0.15">0</text>
<line x1="76.14" y1="379.50" x2="76.14" y2="382.50" stroke="#222" stroke-width="0.9"/>
<text x="76.14" y="392.20" font-size="6.5" text-anchor="middle" fill="#333" textLength="3.75" lengthAdjust="spacingAndGlyphs" stroke="#333" stroke-width="0.15">2</text>
<line x1="108.98" y1="379.50" x2="108.98" y2="382.50" stroke="#222" stroke-width="0.9"/>
<text x="108.98" y="392.20" font-size="6.5" text-anchor="middle" fill="#333" textLength="3.75" lengthAdjust="spacingAndGlyphs" stroke="#333" stroke-width="0.15">4</text>
<line x1="141.82" y1="379.50" x2="141.82" y2="382.50" stroke="#222" stroke-width="0.9"/>
<text x="141.82" y="392.20" font-size="6.5" text-anchor="middle" fill="#333" textLength="3.75" lengthAdjust="spacingAndGlyphs" stroke="#333" stroke-width="0.15">6</text>
<line x1="174.66" y1="379.50" x2="174.66" y2="382.50" stroke="#222" stroke-width="0.9"/>
<text x="174.66" y="392.20" font-size="6.5" text-anchor="middle" fill="#333" textLength="3.75" lengthAdjust="spacingAndGlyphs" stroke="#333" stroke-width="0.15">8</text>
<line x1="207.50" y1="379.50" x2="207.50" y2="382.50" stroke="#222" stroke-width="0.9"/>
<text x="207.50" y="392.20" font-size="6.5" text-anchor="middle" fill="#333" textLength="7.50" lengthAdjust="spacingAndGlyphs" stroke="#333" stroke-width="0.15">10</text>
<line x1="240.34" y1="379.50" x2="240.34" y2="382.50" stroke="#222" stroke-width="0.9"/>
<text x="240.34" y="392.20" font-size="6.5" text-anchor="middle" fill="#333" textLength="7.50" lengthAdjust="spacingAndGlyphs" stroke="#333" stroke-width="0.15">12</text>
<text x="134.80" y="403.60" font-size="8.4" text-anchor="start" fill="#222" font-weight="bold" textLength="19.70" lengthAdjust="spacingAndGlyphs">Months</text>
<text transform="translate(13.90,312.60) rotate(-90)" x="0" y="0" font-size="8.6" font-weight="bold" text-anchor="middle" fill="#3a3a3a" textLength="63.80" lengthAdjust="spacingAndGlyphs">Moderate-severe CGVHD</text>
<text x="46.20" y="259.10" font-size="6.7" fill="#333" textLength="20.6" lengthAdjust="spacingAndGlyphs"><tspan font-style="italic">P</tspan> = .26</text>
<text x="212.20" y="251.00" font-size="6.5" text-anchor="start" fill="#333" textLength="30.30" lengthAdjust="spacingAndGlyphs">Age Group</text>
<line x1="211.60" y1="258.80" x2="221.50" y2="258.80" stroke="#EC9C40" stroke-width="1.3"/>
<text x="224.30" y="261.00" font-size="6.6" text-anchor="start" fill="#333" textLength="6.60" lengthAdjust="spacingAndGlyphs">All</text>
<line x1="211.60" y1="268.40" x2="221.50" y2="268.40" stroke="#22578A" stroke-width="1.3"/>
<text x="224.30" y="270.60" font-size="6.6" text-anchor="start" fill="#333" textLength="13.30" lengthAdjust="spacingAndGlyphs">Adult</text>
<line x1="211.60" y1="278.00" x2="221.50" y2="278.00" stroke="#AC1D45" stroke-width="1.3"/>
<text x="224.30" y="280.20" font-size="6.6" text-anchor="start" fill="#333" textLength="22.00" lengthAdjust="spacingAndGlyphs">Pediatric</text>
<text x="6.90" y="404.90" font-size="6.4" text-anchor="start" fill="#333" textLength="42.70" lengthAdjust="spacingAndGlyphs" stroke="#333" stroke-width="0.15">Patients-at-Risk</text>
<text x="30.90" y="414.80" font-size="6.6" text-anchor="end" fill="#F2AE62" textLength="7.30" lengthAdjust="spacingAndGlyphs" stroke="#F2AE62" stroke-width="0.12">All</text>
<text x="43.30" y="414.80" font-size="6.4" text-anchor="middle" fill="#F2AE62" textLength="7.90" lengthAdjust="spacingAndGlyphs" stroke="#F2AE62" stroke-width="0.12">50</text>
<text x="76.14" y="414.80" font-size="6.4" text-anchor="middle" fill="#F2AE62" textLength="7.90" lengthAdjust="spacingAndGlyphs" stroke="#F2AE62" stroke-width="0.12">47</text>
<text x="108.98" y="414.80" font-size="6.4" text-anchor="middle" fill="#F2AE62" textLength="7.90" lengthAdjust="spacingAndGlyphs" stroke="#F2AE62" stroke-width="0.12">39</text>
<text x="141.82" y="414.80" font-size="6.4" text-anchor="middle" fill="#F2AE62" textLength="7.90" lengthAdjust="spacingAndGlyphs" stroke="#F2AE62" stroke-width="0.12">32</text>
<text x="174.66" y="414.80" font-size="6.4" text-anchor="middle" fill="#F2AE62" textLength="7.90" lengthAdjust="spacingAndGlyphs" stroke="#F2AE62" stroke-width="0.12">26</text>
<text x="207.50" y="414.80" font-size="6.4" text-anchor="middle" fill="#F2AE62" textLength="7.90" lengthAdjust="spacingAndGlyphs" stroke="#F2AE62" stroke-width="0.12">19</text>
<text x="240.34" y="414.80" font-size="6.4" text-anchor="middle" fill="#F2AE62" textLength="7.90" lengthAdjust="spacingAndGlyphs" stroke="#F2AE62" stroke-width="0.12">15</text>
<text x="30.90" y="424.85" font-size="6.6" text-anchor="end" fill="#22578A" textLength="14.30" lengthAdjust="spacingAndGlyphs" stroke="#22578A" stroke-width="0.12">Adult</text>
<text x="43.30" y="424.85" font-size="6.4" text-anchor="middle" fill="#22578A" textLength="7.90" lengthAdjust="spacingAndGlyphs" stroke="#22578A" stroke-width="0.12">24</text>
<text x="76.14" y="424.85" font-size="6.4" text-anchor="middle" fill="#22578A" textLength="7.90" lengthAdjust="spacingAndGlyphs" stroke="#22578A" stroke-width="0.12">23</text>
<text x="108.98" y="424.85" font-size="6.4" text-anchor="middle" fill="#22578A" textLength="7.90" lengthAdjust="spacingAndGlyphs" stroke="#22578A" stroke-width="0.12">20</text>
<text x="141.82" y="424.85" font-size="6.4" text-anchor="middle" fill="#22578A" textLength="7.90" lengthAdjust="spacingAndGlyphs" stroke="#22578A" stroke-width="0.12">17</text>
<text x="174.66" y="424.85" font-size="6.4" text-anchor="middle" fill="#22578A" textLength="7.90" lengthAdjust="spacingAndGlyphs" stroke="#22578A" stroke-width="0.12">12</text>
<text x="207.50" y="424.85" font-size="6.4" text-anchor="middle" fill="#22578A" textLength="7.90" lengthAdjust="spacingAndGlyphs" stroke="#22578A" stroke-width="0.12">10</text>
<text x="240.34" y="424.85" font-size="6.4" text-anchor="middle" fill="#22578A" textLength="3.95" lengthAdjust="spacingAndGlyphs" stroke="#22578A" stroke-width="0.12">9</text>
<text x="30.90" y="434.90" font-size="6.6" text-anchor="end" fill="#AC1D45" textLength="24.00" lengthAdjust="spacingAndGlyphs" stroke="#AC1D45" stroke-width="0.12">Pediatric</text>
<text x="43.30" y="434.90" font-size="6.4" text-anchor="middle" fill="#AC1D45" textLength="7.90" lengthAdjust="spacingAndGlyphs" stroke="#AC1D45" stroke-width="0.12">26</text>
<text x="76.14" y="434.90" font-size="6.4" text-anchor="middle" fill="#AC1D45" textLength="7.90" lengthAdjust="spacingAndGlyphs" stroke="#AC1D45" stroke-width="0.12">24</text>
<text x="108.98" y="434.90" font-size="6.4" text-anchor="middle" fill="#AC1D45" textLength="7.90" lengthAdjust="spacingAndGlyphs" stroke="#AC1D45" stroke-width="0.12">19</text>
<text x="141.82" y="434.90" font-size="6.4" text-anchor="middle" fill="#AC1D45" textLength="7.90" lengthAdjust="spacingAndGlyphs" stroke="#AC1D45" stroke-width="0.12">15</text>
<text x="174.66" y="434.90" font-size="6.4" text-anchor="middle" fill="#AC1D45" textLength="7.90" lengthAdjust="spacingAndGlyphs" stroke="#AC1D45" stroke-width="0.12">14</text>
<text x="207.50" y="434.90" font-size="6.4" text-anchor="middle" fill="#AC1D45" textLength="3.95" lengthAdjust="spacingAndGlyphs" stroke="#AC1D45" stroke-width="0.12">9</text>
<text x="240.34" y="434.90" font-size="6.4" text-anchor="middle" fill="#AC1D45" textLength="3.95" lengthAdjust="spacingAndGlyphs" stroke="#AC1D45" stroke-width="0.12">6</text>
<path d="M43.30,379.10 H64.60 V376.60 H77.30 V371.50 H104.40 V367.70 H107.30 V364.90 H115.40 V362.40 H123.40 V359.70 H148.10 V356.40 H156.80 V349.60 H163.60 V345.60 H177.70 V343.60 H183.30 V339.50 H186.40 V336.80 H191.10 V328.10 H194.50 V324.70 H197.60 V322.00 H212.60 V319.10 H236.90 V311.80 H248.80" fill="none" stroke="#EC9C40" stroke-width="1.3" stroke-linejoin="miter"/>
<path d="M43.30,379.10 H78.40 V373.80 H104.40 V367.50 H148.10 V361.10 H156.80 V347.20 H163.60 V340.90 H183.30 V336.80 H186.40 V333.70 H194.50 V326.50 H248.80" fill="none" stroke="#22578A" stroke-width="1.3" stroke-linejoin="miter"/>
<path d="M43.30,379.10 H64.60 V373.80 H77.30 V368.70 H105.20 V366.00 H107.30 V363.20 H115.40 V357.50 H123.40 V352.00 H177.70 V345.60 H183.30 V338.60 H191.10 V325.10 H197.60 V318.00 H212.60 V311.40 H236.90 V297.00 H248.80" fill="none" stroke="#AC1D45" stroke-width="1.3" stroke-linejoin="miter"/>
<text x="268.10" y="238.90" font-size="11.8" text-anchor="start" fill="#111" font-weight="bold">D</text>
<line x1="297.40" y1="245.40" x2="297.40" y2="380.00" stroke="#222" stroke-width="1.1"/>
<line x1="294.20" y1="248.30" x2="297.40" y2="248.30" stroke="#222" stroke-width="0.9"/>
<text x="291.60" y="250.80" font-size="6.5" text-anchor="end" fill="#333" textLength="11.25" lengthAdjust="spacingAndGlyphs" stroke="#333" stroke-width="0.15">100</text>
<line x1="294.20" y1="261.35" x2="297.40" y2="261.35" stroke="#222" stroke-width="0.9"/>
<text x="291.60" y="263.85" font-size="6.5" text-anchor="end" fill="#333" textLength="7.50" lengthAdjust="spacingAndGlyphs" stroke="#333" stroke-width="0.15">90</text>
<line x1="294.20" y1="274.40" x2="297.40" y2="274.40" stroke="#222" stroke-width="0.9"/>
<text x="291.60" y="276.90" font-size="6.5" text-anchor="end" fill="#333" textLength="7.50" lengthAdjust="spacingAndGlyphs" stroke="#333" stroke-width="0.15">80</text>
<line x1="294.20" y1="287.45" x2="297.40" y2="287.45" stroke="#222" stroke-width="0.9"/>
<text x="291.60" y="289.95" font-size="6.5" text-anchor="end" fill="#333" textLength="7.50" lengthAdjust="spacingAndGlyphs" stroke="#333" stroke-width="0.15">70</text>
<line x1="294.20" y1="300.50" x2="297.40" y2="300.50" stroke="#222" stroke-width="0.9"/>
<text x="291.60" y="303.00" font-size="6.5" text-anchor="end" fill="#333" textLength="7.50" lengthAdjust="spacingAndGlyphs" stroke="#333" stroke-width="0.15">60</text>
<line x1="294.20" y1="313.55" x2="297.40" y2="313.55" stroke="#222" stroke-width="0.9"/>
<text x="291.60" y="316.05" font-size="6.5" text-anchor="end" fill="#333" textLength="7.50" lengthAdjust="spacingAndGlyphs" stroke="#333" stroke-width="0.15">50</text>
<line x1="294.20" y1="326.60" x2="297.40" y2="326.60" stroke="#222" stroke-width="0.9"/>
<text x="291.60" y="329.10" font-size="6.5" text-anchor="end" fill="#333" textLength="7.50" lengthAdjust="spacingAndGlyphs" stroke="#333" stroke-width="0.15">40</text>
<line x1="294.20" y1="339.65" x2="297.40" y2="339.65" stroke="#222" stroke-width="0.9"/>
<text x="291.60" y="342.15" font-size="6.5" text-anchor="end" fill="#333" textLength="7.50" lengthAdjust="spacingAndGlyphs" stroke="#333" stroke-width="0.15">30</text>
<line x1="294.20" y1="352.70" x2="297.40" y2="352.70" stroke="#222" stroke-width="0.9"/>
<text x="291.60" y="355.20" font-size="6.5" text-anchor="end" fill="#333" textLength="7.50" lengthAdjust="spacingAndGlyphs" stroke="#333" stroke-width="0.15">20</text>
<line x1="294.20" y1="365.75" x2="297.40" y2="365.75" stroke="#222" stroke-width="0.9"/>
<text x="291.60" y="368.25" font-size="6.5" text-anchor="end" fill="#333" textLength="7.50" lengthAdjust="spacingAndGlyphs" stroke="#333" stroke-width="0.15">10</text>
<line x1="294.20" y1="378.80" x2="297.40" y2="378.80" stroke="#222" stroke-width="0.9"/>
<text x="291.60" y="381.30" font-size="6.5" text-anchor="end" fill="#333" textLength="3.75" lengthAdjust="spacingAndGlyphs" stroke="#333" stroke-width="0.15">0</text>
<line x1="296.90" y1="379.50" x2="513.10" y2="379.50" stroke="#222" stroke-width="1.1"/>
<line x1="304.10" y1="379.50" x2="304.10" y2="382.50" stroke="#222" stroke-width="0.9"/>
<text x="304.10" y="392.20" font-size="6.5" text-anchor="middle" fill="#333" textLength="3.75" lengthAdjust="spacingAndGlyphs" stroke="#333" stroke-width="0.15">0</text>
<line x1="336.94" y1="379.50" x2="336.94" y2="382.50" stroke="#222" stroke-width="0.9"/>
<text x="336.94" y="392.20" font-size="6.5" text-anchor="middle" fill="#333" textLength="3.75" lengthAdjust="spacingAndGlyphs" stroke="#333" stroke-width="0.15">2</text>
<line x1="369.78" y1="379.50" x2="369.78" y2="382.50" stroke="#222" stroke-width="0.9"/>
<text x="369.78" y="392.20" font-size="6.5" text-anchor="middle" fill="#333" textLength="3.75" lengthAdjust="spacingAndGlyphs" stroke="#333" stroke-width="0.15">4</text>
<line x1="402.62" y1="379.50" x2="402.62" y2="382.50" stroke="#222" stroke-width="0.9"/>
<text x="402.62" y="392.20" font-size="6.5" text-anchor="middle" fill="#333" textLength="3.75" lengthAdjust="spacingAndGlyphs" stroke="#333" stroke-width="0.15">6</text>
<line x1="435.46" y1="379.50" x2="435.46" y2="382.50" stroke="#222" stroke-width="0.9"/>
<text x="435.46" y="392.20" font-size="6.5" text-anchor="middle" fill="#333" textLength="3.75" lengthAdjust="spacingAndGlyphs" stroke="#333" stroke-width="0.15">8</text>
<line x1="468.30" y1="379.50" x2="468.30" y2="382.50" stroke="#222" stroke-width="0.9"/>
<text x="468.30" y="392.20" font-size="6.5" text-anchor="middle" fill="#333" textLength="7.50" lengthAdjust="spacingAndGlyphs" stroke="#333" stroke-width="0.15">10</text>
<line x1="501.14" y1="379.50" x2="501.14" y2="382.50" stroke="#222" stroke-width="0.9"/>
<text x="501.14" y="392.20" font-size="6.5" text-anchor="middle" fill="#333" textLength="7.50" lengthAdjust="spacingAndGlyphs" stroke="#333" stroke-width="0.15">12</text>
<text x="399.40" y="403.70" font-size="8.4" text-anchor="start" fill="#222" font-weight="bold" textLength="12.10" lengthAdjust="spacingAndGlyphs">Days</text>
<text transform="translate(274.50,312.15) rotate(-90)" x="0" y="0" font-size="8.6" font-weight="bold" text-anchor="middle" fill="#3a3a3a" textLength="72.50" lengthAdjust="spacingAndGlyphs">Transplant related mortality</text>
<text x="307.00" y="259.10" font-size="6.7" fill="#333" textLength="20.6" lengthAdjust="spacingAndGlyphs"><tspan font-style="italic">P</tspan> = .60</text>
<text x="473.00" y="251.00" font-size="6.5" text-anchor="start" fill="#333" textLength="30.30" lengthAdjust="spacingAndGlyphs">Age Group</text>
<line x1="472.40" y1="258.80" x2="482.30" y2="258.80" stroke="#EC9C40" stroke-width="1.3"/>
<text x="485.10" y="261.00" font-size="6.6" text-anchor="start" fill="#333" textLength="6.60" lengthAdjust="spacingAndGlyphs">All</text>
<line x1="472.40" y1="268.40" x2="482.30" y2="268.40" stroke="#22578A" stroke-width="1.3"/>
<text x="485.10" y="270.60" font-size="6.6" text-anchor="start" fill="#333" textLength="13.30" lengthAdjust="spacingAndGlyphs">Adult</text>
<line x1="472.40" y1="278.00" x2="482.30" y2="278.00" stroke="#AC1D45" stroke-width="1.3"/>
<text x="485.10" y="280.20" font-size="6.6" text-anchor="start" fill="#333" textLength="22.00" lengthAdjust="spacingAndGlyphs">Pediatric</text>
<text x="267.70" y="404.90" font-size="6.4" text-anchor="start" fill="#333" textLength="42.70" lengthAdjust="spacingAndGlyphs" stroke="#333" stroke-width="0.15">Patients-at-Risk</text>
<text x="291.70" y="414.80" font-size="6.6" text-anchor="end" fill="#F2AE62" textLength="7.30" lengthAdjust="spacingAndGlyphs" stroke="#F2AE62" stroke-width="0.12">All</text>
<text x="304.10" y="414.80" font-size="6.4" text-anchor="middle" fill="#F2AE62" textLength="7.90" lengthAdjust="spacingAndGlyphs" stroke="#F2AE62" stroke-width="0.12">50</text>
<text x="336.94" y="414.80" font-size="6.4" text-anchor="middle" fill="#F2AE62" textLength="7.90" lengthAdjust="spacingAndGlyphs" stroke="#F2AE62" stroke-width="0.12">48</text>
<text x="369.78" y="414.80" font-size="6.4" text-anchor="middle" fill="#F2AE62" textLength="7.90" lengthAdjust="spacingAndGlyphs" stroke="#F2AE62" stroke-width="0.12">44</text>
<text x="402.62" y="414.80" font-size="6.4" text-anchor="middle" fill="#F2AE62" textLength="7.90" lengthAdjust="spacingAndGlyphs" stroke="#F2AE62" stroke-width="0.12">39</text>
<text x="435.46" y="414.80" font-size="6.4" text-anchor="middle" fill="#F2AE62" textLength="7.90" lengthAdjust="spacingAndGlyphs" stroke="#F2AE62" stroke-width="0.12">37</text>
<text x="468.30" y="414.80" font-size="6.4" text-anchor="middle" fill="#F2AE62" textLength="7.90" lengthAdjust="spacingAndGlyphs" stroke="#F2AE62" stroke-width="0.12">37</text>
<text x="501.14" y="414.80" font-size="6.4" text-anchor="middle" fill="#F2AE62" textLength="7.90" lengthAdjust="spacingAndGlyphs" stroke="#F2AE62" stroke-width="0.12">35</text>
<text x="291.70" y="424.85" font-size="6.6" text-anchor="end" fill="#22578A" textLength="14.30" lengthAdjust="spacingAndGlyphs" stroke="#22578A" stroke-width="0.12">Adult</text>
<text x="304.10" y="424.85" font-size="6.4" text-anchor="middle" fill="#22578A" textLength="7.90" lengthAdjust="spacingAndGlyphs" stroke="#22578A" stroke-width="0.12">24</text>
<text x="336.94" y="424.85" font-size="6.4" text-anchor="middle" fill="#22578A" textLength="7.90" lengthAdjust="spacingAndGlyphs" stroke="#22578A" stroke-width="0.12">23</text>
<text x="369.78" y="424.85" font-size="6.4" text-anchor="middle" fill="#22578A" textLength="7.90" lengthAdjust="spacingAndGlyphs" stroke="#22578A" stroke-width="0.12">22</text>
<text x="402.62" y="424.85" font-size="6.4" text-anchor="middle" fill="#22578A" textLength="7.90" lengthAdjust="spacingAndGlyphs" stroke="#22578A" stroke-width="0.12">19</text>
<text x="435.46" y="424.85" font-size="6.4" text-anchor="middle" fill="#22578A" textLength="7.90" lengthAdjust="spacingAndGlyphs" stroke="#22578A" stroke-width="0.12">18</text>
<text x="468.30" y="424.85" font-size="6.4" text-anchor="middle" fill="#22578A" textLength="7.90" lengthAdjust="spacingAndGlyphs" stroke="#22578A" stroke-width="0.12">18</text>
<text x="501.14" y="424.85" font-size="6.4" text-anchor="middle" fill="#22578A" textLength="7.90" lengthAdjust="spacingAndGlyphs" stroke="#22578A" stroke-width="0.12">17</text>
<text x="291.70" y="434.90" font-size="6.6" text-anchor="end" fill="#AC1D45" textLength="24.00" lengthAdjust="spacingAndGlyphs" stroke="#AC1D45" stroke-width="0.12">Pediatric</text>
<text x="304.10" y="434.90" font-size="6.4" text-anchor="middle" fill="#AC1D45" textLength="7.90" lengthAdjust="spacingAndGlyphs" stroke="#AC1D45" stroke-width="0.12">26</text>
<text x="336.94" y="434.90" font-size="6.4" text-anchor="middle" fill="#AC1D45" textLength="7.90" lengthAdjust="spacingAndGlyphs" stroke="#AC1D45" stroke-width="0.12">25</text>
<text x="369.78" y="434.90" font-size="6.4" text-anchor="middle" fill="#AC1D45" textLength="7.90" lengthAdjust="spacingAndGlyphs" stroke="#AC1D45" stroke-width="0.12">22</text>
<text x="402.62" y="434.90" font-size="6.4" text-anchor="middle" fill="#AC1D45" textLength="7.90" lengthAdjust="spacingAndGlyphs" stroke="#AC1D45" stroke-width="0.12">20</text>
<text x="435.46" y="434.90" font-size="6.4" text-anchor="middle" fill="#AC1D45" textLength="7.90" lengthAdjust="spacingAndGlyphs" stroke="#AC1D45" stroke-width="0.12">19</text>
<text x="468.30" y="434.90" font-size="6.4" text-anchor="middle" fill="#AC1D45" textLength="7.90" lengthAdjust="spacingAndGlyphs" stroke="#AC1D45" stroke-width="0.12">19</text>
<text x="501.14" y="434.90" font-size="6.4" text-anchor="middle" fill="#AC1D45" textLength="7.90" lengthAdjust="spacingAndGlyphs" stroke="#AC1D45" stroke-width="0.12">18</text>
<path d="M304.00,379.30 H315.40 V376.20 H324.80 V373.20 H347.20 V371.00 H373.70 V368.30 H477.70 V365.40 H510.80" fill="none" stroke="#EC9C40" stroke-width="1.3" stroke-linejoin="miter"/>
<path d="M304.00,379.30 H315.40 V373.20 H373.70 V368.00 H477.70 V362.30 H510.80" fill="none" stroke="#22578A" stroke-width="1.3" stroke-linejoin="miter"/>
<path d="M304.00,379.30 H324.80 V373.20 H347.20 V368.50 H510.80" fill="none" stroke="#AC1D45" stroke-width="1.3" stroke-linejoin="miter"/>
<text x="7.30" y="461.30" font-size="11.8" text-anchor="start" fill="#111" font-weight="bold">E</text>
<line x1="36.60" y1="467.80" x2="36.60" y2="602.40" stroke="#222" stroke-width="1.1"/>
<line x1="33.40" y1="470.70" x2="36.60" y2="470.70" stroke="#222" stroke-width="0.9"/>
<text x="30.80" y="473.20" font-size="6.5" text-anchor="end" fill="#333" textLength="11.25" lengthAdjust="spacingAndGlyphs" stroke="#333" stroke-width="0.15">100</text>
<line x1="33.40" y1="483.75" x2="36.60" y2="483.75" stroke="#222" stroke-width="0.9"/>
<text x="30.80" y="486.25" font-size="6.5" text-anchor="end" fill="#333" textLength="7.50" lengthAdjust="spacingAndGlyphs" stroke="#333" stroke-width="0.15">90</text>
<line x1="33.40" y1="496.80" x2="36.60" y2="496.80" stroke="#222" stroke-width="0.9"/>
<text x="30.80" y="499.30" font-size="6.5" text-anchor="end" fill="#333" textLength="7.50" lengthAdjust="spacingAndGlyphs" stroke="#333" stroke-width="0.15">80</text>
<line x1="33.40" y1="509.85" x2="36.60" y2="509.85" stroke="#222" stroke-width="0.9"/>
<text x="30.80" y="512.35" font-size="6.5" text-anchor="end" fill="#333" textLength="7.50" lengthAdjust="spacingAndGlyphs" stroke="#333" stroke-width="0.15">70</text>
<line x1="33.40" y1="522.90" x2="36.60" y2="522.90" stroke="#222" stroke-width="0.9"/>
<text x="30.80" y="525.40" font-size="6.5" text-anchor="end" fill="#333" textLength="7.50" lengthAdjust="spacingAndGlyphs" stroke="#333" stroke-width="0.15">60</text>
<line x1="33.40" y1="535.95" x2="36.60" y2="535.95" stroke="#222" stroke-width="0.9"/>
<text x="30.80" y="538.45" font-size="6.5" text-anchor="end" fill="#333" textLength="7.50" lengthAdjust="spacingAndGlyphs" stroke="#333" stroke-width="0.15">50</text>
<line x1="33.40" y1="549.00" x2="36.60" y2="549.00" stroke="#222" stroke-width="0.9"/>
<text x="30.80" y="551.50" font-size="6.5" text-anchor="end" fill="#333" textLength="7.50" lengthAdjust="spacingAndGlyphs" stroke="#333" stroke-width="0.15">40</text>
<line x1="33.40" y1="562.05" x2="36.60" y2="562.05" stroke="#222" stroke-width="0.9"/>
<text x="30.80" y="564.55" font-size="6.5" text-anchor="end" fill="#333" textLength="7.50" lengthAdjust="spacingAndGlyphs" stroke="#333" stroke-width="0.15">30</text>
<line x1="33.40" y1="575.10" x2="36.60" y2="575.10" stroke="#222" stroke-width="0.9"/>
<text x="30.80" y="577.60" font-size="6.5" text-anchor="end" fill="#333" textLength="7.50" lengthAdjust="spacingAndGlyphs" stroke="#333" stroke-width="0.15">20</text>
<line x1="33.40" y1="588.15" x2="36.60" y2="588.15" stroke="#222" stroke-width="0.9"/>
<text x="30.80" y="590.65" font-size="6.5" text-anchor="end" fill="#333" textLength="7.50" lengthAdjust="spacingAndGlyphs" stroke="#333" stroke-width="0.15">10</text>
<line x1="33.40" y1="601.20" x2="36.60" y2="601.20" stroke="#222" stroke-width="0.9"/>
<text x="30.80" y="603.70" font-size="6.5" text-anchor="end" fill="#333" textLength="3.75" lengthAdjust="spacingAndGlyphs" stroke="#333" stroke-width="0.15">0</text>
<line x1="36.10" y1="601.90" x2="252.30" y2="601.90" stroke="#222" stroke-width="1.1"/>
<line x1="43.30" y1="601.90" x2="43.30" y2="604.90" stroke="#222" stroke-width="0.9"/>
<text x="43.30" y="614.00" font-size="6.5" text-anchor="middle" fill="#333" textLength="3.75" lengthAdjust="spacingAndGlyphs" stroke="#333" stroke-width="0.15">0</text>
<line x1="76.14" y1="601.90" x2="76.14" y2="604.90" stroke="#222" stroke-width="0.9"/>
<text x="76.14" y="614.00" font-size="6.5" text-anchor="middle" fill="#333" textLength="3.75" lengthAdjust="spacingAndGlyphs" stroke="#333" stroke-width="0.15">2</text>
<line x1="108.98" y1="601.90" x2="108.98" y2="604.90" stroke="#222" stroke-width="0.9"/>
<text x="108.98" y="614.00" font-size="6.5" text-anchor="middle" fill="#333" textLength="3.75" lengthAdjust="spacingAndGlyphs" stroke="#333" stroke-width="0.15">4</text>
<line x1="141.82" y1="601.90" x2="141.82" y2="604.90" stroke="#222" stroke-width="0.9"/>
<text x="141.82" y="614.00" font-size="6.5" text-anchor="middle" fill="#333" textLength="3.75" lengthAdjust="spacingAndGlyphs" stroke="#333" stroke-width="0.15">6</text>
<line x1="174.66" y1="601.90" x2="174.66" y2="604.90" stroke="#222" stroke-width="0.9"/>
<text x="174.66" y="614.00" font-size="6.5" text-anchor="middle" fill="#333" textLength="3.75" lengthAdjust="spacingAndGlyphs" stroke="#333" stroke-width="0.15">8</text>
<line x1="207.50" y1="601.90" x2="207.50" y2="604.90" stroke="#222" stroke-width="0.9"/>
<text x="207.50" y="614.00" font-size="6.5" text-anchor="middle" fill="#333" textLength="7.50" lengthAdjust="spacingAndGlyphs" stroke="#333" stroke-width="0.15">10</text>
<line x1="240.34" y1="601.90" x2="240.34" y2="604.90" stroke="#222" stroke-width="0.9"/>
<text x="240.34" y="614.00" font-size="6.5" text-anchor="middle" fill="#333" textLength="7.50" lengthAdjust="spacingAndGlyphs" stroke="#333" stroke-width="0.15">12</text>
<text x="135.00" y="625.60" font-size="8.4" text-anchor="start" fill="#222" font-weight="bold" textLength="19.00" lengthAdjust="spacingAndGlyphs">Months</text>
<text transform="translate(13.90,534.80) rotate(-90)" x="0" y="0" font-size="8.6" font-weight="bold" text-anchor="middle" fill="#3a3a3a" textLength="53.00" lengthAdjust="spacingAndGlyphs">Disease free survival</text>
<text x="46.20" y="595.50" font-size="6.7" fill="#333" textLength="20.6" lengthAdjust="spacingAndGlyphs"><tspan font-style="italic">P</tspan> = .69</text>
<text x="212.20" y="564.00" font-size="6.5" text-anchor="start" fill="#333" textLength="30.30" lengthAdjust="spacingAndGlyphs">Age Group</text>
<line x1="211.60" y1="571.80" x2="221.50" y2="571.80" stroke="#EC9C40" stroke-width="1.3"/>
<text x="224.30" y="574.00" font-size="6.6" text-anchor="start" fill="#333" textLength="6.60" lengthAdjust="spacingAndGlyphs">All</text>
<line x1="211.60" y1="581.40" x2="221.50" y2="581.40" stroke="#22578A" stroke-width="1.3"/>
<text x="224.30" y="583.60" font-size="6.6" text-anchor="start" fill="#333" textLength="13.30" lengthAdjust="spacingAndGlyphs">Adult</text>
<line x1="211.60" y1="591.00" x2="221.50" y2="591.00" stroke="#AC1D45" stroke-width="1.3"/>
<text x="224.30" y="593.20" font-size="6.6" text-anchor="start" fill="#333" textLength="22.00" lengthAdjust="spacingAndGlyphs">Pediatric</text>
<text x="6.90" y="627.30" font-size="6.4" text-anchor="start" fill="#333" textLength="42.70" lengthAdjust="spacingAndGlyphs" stroke="#333" stroke-width="0.15">Patients-at-Risk</text>
<text x="30.90" y="637.20" font-size="6.6" text-anchor="end" fill="#F2AE62" textLength="7.30" lengthAdjust="spacingAndGlyphs" stroke="#F2AE62" stroke-width="0.12">All</text>
<text x="43.30" y="637.20" font-size="6.4" text-anchor="middle" fill="#F2AE62" textLength="7.90" lengthAdjust="spacingAndGlyphs" stroke="#F2AE62" stroke-width="0.12">50</text>
<text x="76.14" y="637.20" font-size="6.4" text-anchor="middle" fill="#F2AE62" textLength="7.90" lengthAdjust="spacingAndGlyphs" stroke="#F2AE62" stroke-width="0.12">48</text>
<text x="108.98" y="637.20" font-size="6.4" text-anchor="middle" fill="#F2AE62" textLength="7.90" lengthAdjust="spacingAndGlyphs" stroke="#F2AE62" stroke-width="0.12">44</text>
<text x="141.82" y="637.20" font-size="6.4" text-anchor="middle" fill="#F2AE62" textLength="7.90" lengthAdjust="spacingAndGlyphs" stroke="#F2AE62" stroke-width="0.12">39</text>
<text x="174.66" y="637.20" font-size="6.4" text-anchor="middle" fill="#F2AE62" textLength="7.90" lengthAdjust="spacingAndGlyphs" stroke="#F2AE62" stroke-width="0.12">37</text>
<text x="207.50" y="637.20" font-size="6.4" text-anchor="middle" fill="#F2AE62" textLength="7.90" lengthAdjust="spacingAndGlyphs" stroke="#F2AE62" stroke-width="0.12">37</text>
<text x="240.34" y="637.20" font-size="6.4" text-anchor="middle" fill="#F2AE62" textLength="7.90" lengthAdjust="spacingAndGlyphs" stroke="#F2AE62" stroke-width="0.12">35</text>
<text x="30.90" y="647.25" font-size="6.6" text-anchor="end" fill="#22578A" textLength="14.30" lengthAdjust="spacingAndGlyphs" stroke="#22578A" stroke-width="0.12">Adult</text>
<text x="43.30" y="647.25" font-size="6.4" text-anchor="middle" fill="#22578A" textLength="7.90" lengthAdjust="spacingAndGlyphs" stroke="#22578A" stroke-width="0.12">24</text>
<text x="76.14" y="647.25" font-size="6.4" text-anchor="middle" fill="#22578A" textLength="7.90" lengthAdjust="spacingAndGlyphs" stroke="#22578A" stroke-width="0.12">23</text>
<text x="108.98" y="647.25" font-size="6.4" text-anchor="middle" fill="#22578A" textLength="7.90" lengthAdjust="spacingAndGlyphs" stroke="#22578A" stroke-width="0.12">22</text>
<text x="141.82" y="647.25" font-size="6.4" text-anchor="middle" fill="#22578A" textLength="7.90" lengthAdjust="spacingAndGlyphs" stroke="#22578A" stroke-width="0.12">19</text>
<text x="174.66" y="647.25" font-size="6.4" text-anchor="middle" fill="#22578A" textLength="7.90" lengthAdjust="spacingAndGlyphs" stroke="#22578A" stroke-width="0.12">18</text>
<text x="207.50" y="647.25" font-size="6.4" text-anchor="middle" fill="#22578A" textLength="7.90" lengthAdjust="spacingAndGlyphs" stroke="#22578A" stroke-width="0.12">18</text>
<text x="240.34" y="647.25" font-size="6.4" text-anchor="middle" fill="#22578A" textLength="7.90" lengthAdjust="spacingAndGlyphs" stroke="#22578A" stroke-width="0.12">17</text>
<text x="30.90" y="657.30" font-size="6.6" text-anchor="end" fill="#AC1D45" textLength="24.00" lengthAdjust="spacingAndGlyphs" stroke="#AC1D45" stroke-width="0.12">Pediatric</text>
<text x="43.30" y="657.30" font-size="6.4" text-anchor="middle" fill="#AC1D45" textLength="7.90" lengthAdjust="spacingAndGlyphs" stroke="#AC1D45" stroke-width="0.12">26</text>
<text x="76.14" y="657.30" font-size="6.4" text-anchor="middle" fill="#AC1D45" textLength="7.90" lengthAdjust="spacingAndGlyphs" stroke="#AC1D45" stroke-width="0.12">25</text>
<text x="108.98" y="657.30" font-size="6.4" text-anchor="middle" fill="#AC1D45" textLength="7.90" lengthAdjust="spacingAndGlyphs" stroke="#AC1D45" stroke-width="0.12">22</text>
<text x="141.82" y="657.30" font-size="6.4" text-anchor="middle" fill="#AC1D45" textLength="7.90" lengthAdjust="spacingAndGlyphs" stroke="#AC1D45" stroke-width="0.12">20</text>
<text x="174.66" y="657.30" font-size="6.4" text-anchor="middle" fill="#AC1D45" textLength="7.90" lengthAdjust="spacingAndGlyphs" stroke="#AC1D45" stroke-width="0.12">19</text>
<text x="207.50" y="657.30" font-size="6.4" text-anchor="middle" fill="#AC1D45" textLength="7.90" lengthAdjust="spacingAndGlyphs" stroke="#AC1D45" stroke-width="0.12">19</text>
<text x="240.34" y="657.30" font-size="6.4" text-anchor="middle" fill="#AC1D45" textLength="7.90" lengthAdjust="spacingAndGlyphs" stroke="#AC1D45" stroke-width="0.12">18</text>
<path d="M43.40,468.90 H55.00 V471.40 H63.00 V474.20 H86.50 V476.90 H96.20 V479.60 H104.60 V482.30 H106.50 V486.20 H112.30 V488.20 H114.20 V491.60 H117.70 V493.10 H138.50 V495.40 H143.80 V498.00 H148.50 V501.10 H216.30 V503.60 H248.80" fill="none" stroke="#EC9C40" stroke-width="1.3" stroke-linejoin="miter"/>
<path d="M43.40,468.90 H55.00 V474.20 H96.20 V479.60 H112.30 V485.10 H114.20 V490.00 H117.70 V496.60 H148.50 V502.30 H216.30 V507.60 H248.80" fill="none" stroke="#22578A" stroke-width="1.3" stroke-linejoin="miter"/>
<path d="M43.40,468.90 H63.00 V474.20 H86.50 V479.20 H104.60 V484.60 H106.50 V489.60 H138.50 V493.90 H143.80 V499.60 H248.80" fill="none" stroke="#AC1D45" stroke-width="1.3" stroke-linejoin="miter"/>
<text x="268.10" y="461.30" font-size="11.8" text-anchor="start" fill="#111" font-weight="bold">F</text>
<line x1="297.40" y1="467.80" x2="297.40" y2="602.40" stroke="#222" stroke-width="1.1"/>
<line x1="294.20" y1="470.70" x2="297.40" y2="470.70" stroke="#222" stroke-width="0.9"/>
<text x="291.60" y="473.20" font-size="6.5" text-anchor="end" fill="#333" textLength="11.25" lengthAdjust="spacingAndGlyphs" stroke="#333" stroke-width="0.15">100</text>
<line x1="294.20" y1="483.75" x2="297.40" y2="483.75" stroke="#222" stroke-width="0.9"/>
<text x="291.60" y="486.25" font-size="6.5" text-anchor="end" fill="#333" textLength="7.50" lengthAdjust="spacingAndGlyphs" stroke="#333" stroke-width="0.15">90</text>
<line x1="294.20" y1="496.80" x2="297.40" y2="496.80" stroke="#222" stroke-width="0.9"/>
<text x="291.60" y="499.30" font-size="6.5" text-anchor="end" fill="#333" textLength="7.50" lengthAdjust="spacingAndGlyphs" stroke="#333" stroke-width="0.15">80</text>
<line x1="294.20" y1="509.85" x2="297.40" y2="509.85" stroke="#222" stroke-width="0.9"/>
<text x="291.60" y="512.35" font-size="6.5" text-anchor="end" fill="#333" textLength="7.50" lengthAdjust="spacingAndGlyphs" stroke="#333" stroke-width="0.15">70</text>
<line x1="294.20" y1="522.90" x2="297.40" y2="522.90" stroke="#222" stroke-width="0.9"/>
<text x="291.60" y="525.40" font-size="6.5" text-anchor="end" fill="#333" textLength="7.50" lengthAdjust="spacingAndGlyphs" stroke="#333" stroke-width="0.15">60</text>
<line x1="294.20" y1="535.95" x2="297.40" y2="535.95" stroke="#222" stroke-width="0.9"/>
<text x="291.60" y="538.45" font-size="6.5" text-anchor="end" fill="#333" textLength="7.50" lengthAdjust="spacingAndGlyphs" stroke="#333" stroke-width="0.15">50</text>
<line x1="294.20" y1="549.00" x2="297.40" y2="549.00" stroke="#222" stroke-width="0.9"/>
<text x="291.60" y="551.50" font-size="6.5" text-anchor="end" fill="#333" textLength="7.50" lengthAdjust="spacingAndGlyphs" stroke="#333" stroke-width="0.15">40</text>
<line x1="294.20" y1="562.05" x2="297.40" y2="562.05" stroke="#222" stroke-width="0.9"/>
<text x="291.60" y="564.55" font-size="6.5" text-anchor="end" fill="#333" textLength="7.50" lengthAdjust="spacingAndGlyphs" stroke="#333" stroke-width="0.15">30</text>
<line x1="294.20" y1="575.10" x2="297.40" y2="575.10" stroke="#222" stroke-width="0.9"/>
<text x="291.60" y="577.60" font-size="6.5" text-anchor="end" fill="#333" textLength="7.50" lengthAdjust="spacingAndGlyphs" stroke="#333" stroke-width="0.15">20</text>
<line x1="294.20" y1="588.15" x2="297.40" y2="588.15" stroke="#222" stroke-width="0.9"/>
<text x="291.60" y="590.65" font-size="6.5" text-anchor="end" fill="#333" textLength="7.50" lengthAdjust="spacingAndGlyphs" stroke="#333" stroke-width="0.15">10</text>
<line x1="294.20" y1="601.20" x2="297.40" y2="601.20" stroke="#222" stroke-width="0.9"/>
<text x="291.60" y="603.70" font-size="6.5" text-anchor="end" fill="#333" textLength="3.75" lengthAdjust="spacingAndGlyphs" stroke="#333" stroke-width="0.15">0</text>
<line x1="296.90" y1="601.90" x2="513.10" y2="601.90" stroke="#222" stroke-width="1.1"/>
<line x1="304.10" y1="601.90" x2="304.10" y2="604.90" stroke="#222" stroke-width="0.9"/>
<text x="304.10" y="614.00" font-size="6.5" text-anchor="middle" fill="#333" textLength="3.75" lengthAdjust="spacingAndGlyphs" stroke="#333" stroke-width="0.15">0</text>
<line x1="336.94" y1="601.90" x2="336.94" y2="604.90" stroke="#222" stroke-width="0.9"/>
<text x="336.94" y="614.00" font-size="6.5" text-anchor="middle" fill="#333" textLength="3.75" lengthAdjust="spacingAndGlyphs" stroke="#333" stroke-width="0.15">2</text>
<line x1="369.78" y1="601.90" x2="369.78" y2="604.90" stroke="#222" stroke-width="0.9"/>
<text x="369.78" y="614.00" font-size="6.5" text-anchor="middle" fill="#333" textLength="3.75" lengthAdjust="spacingAndGlyphs" stroke="#333" stroke-width="0.15">4</text>
<line x1="402.62" y1="601.90" x2="402.62" y2="604.90" stroke="#222" stroke-width="0.9"/>
<text x="402.62" y="614.00" font-size="6.5" text-anchor="middle" fill="#333" textLength="3.75" lengthAdjust="spacingAndGlyphs" stroke="#333" stroke-width="0.15">6</text>
<line x1="435.46" y1="601.90" x2="435.46" y2="604.90" stroke="#222" stroke-width="0.9"/>
<text x="435.46" y="614.00" font-size="6.5" text-anchor="middle" fill="#333" textLength="3.75" lengthAdjust="spacingAndGlyphs" stroke="#333" stroke-width="0.15">8</text>
<line x1="468.30" y1="601.90" x2="468.30" y2="604.90" stroke="#222" stroke-width="0.9"/>
<text x="468.30" y="614.00" font-size="6.5" text-anchor="middle" fill="#333" textLength="7.50" lengthAdjust="spacingAndGlyphs" stroke="#333" stroke-width="0.15">10</text>
<line x1="501.14" y1="601.90" x2="501.14" y2="604.90" stroke="#222" stroke-width="0.9"/>
<text x="501.14" y="614.00" font-size="6.5" text-anchor="middle" fill="#333" textLength="7.50" lengthAdjust="spacingAndGlyphs" stroke="#333" stroke-width="0.15">12</text>
<text x="396.20" y="625.60" font-size="8.4" text-anchor="start" fill="#222" font-weight="bold" textLength="18.40" lengthAdjust="spacingAndGlyphs">Months</text>
<text transform="translate(274.50,534.65) rotate(-90)" x="0" y="0" font-size="8.6" font-weight="bold" text-anchor="middle" fill="#3a3a3a" textLength="15.30" lengthAdjust="spacingAndGlyphs">GRFS</text>
<text x="307.00" y="595.50" font-size="6.7" fill="#333" textLength="20.6" lengthAdjust="spacingAndGlyphs"><tspan font-style="italic">P</tspan> = .09</text>
<text x="473.00" y="564.00" font-size="6.5" text-anchor="start" fill="#333" textLength="30.30" lengthAdjust="spacingAndGlyphs">Age Group</text>
<line x1="472.40" y1="571.80" x2="482.30" y2="571.80" stroke="#EC9C40" stroke-width="1.3"/>
<text x="485.10" y="574.00" font-size="6.6" text-anchor="start" fill="#333" textLength="6.60" lengthAdjust="spacingAndGlyphs">All</text>
<line x1="472.40" y1="581.40" x2="482.30" y2="581.40" stroke="#22578A" stroke-width="1.3"/>
<text x="485.10" y="583.60" font-size="6.6" text-anchor="start" fill="#333" textLength="13.30" lengthAdjust="spacingAndGlyphs">Adult</text>
<line x1="472.40" y1="591.00" x2="482.30" y2="591.00" stroke="#AC1D45" stroke-width="1.3"/>
<text x="485.10" y="593.20" font-size="6.6" text-anchor="start" fill="#333" textLength="22.00" lengthAdjust="spacingAndGlyphs">Pediatric</text>
<text x="267.70" y="627.30" font-size="6.4" text-anchor="start" fill="#333" textLength="42.70" lengthAdjust="spacingAndGlyphs" stroke="#333" stroke-width="0.15">Patients-at-Risk</text>
<text x="291.70" y="637.20" font-size="6.6" text-anchor="end" fill="#F2AE62" textLength="7.30" lengthAdjust="spacingAndGlyphs" stroke="#F2AE62" stroke-width="0.12">All</text>
<text x="304.10" y="637.20" font-size="6.4" text-anchor="middle" fill="#F2AE62" textLength="7.90" lengthAdjust="spacingAndGlyphs" stroke="#F2AE62" stroke-width="0.12">50</text>
<text x="336.94" y="637.20" font-size="6.4" text-anchor="middle" fill="#F2AE62" textLength="7.90" lengthAdjust="spacingAndGlyphs" stroke="#F2AE62" stroke-width="0.12">47</text>
<text x="369.78" y="637.20" font-size="6.4" text-anchor="middle" fill="#F2AE62" textLength="7.90" lengthAdjust="spacingAndGlyphs" stroke="#F2AE62" stroke-width="0.12">42</text>
<text x="402.62" y="637.20" font-size="6.4" text-anchor="middle" fill="#F2AE62" textLength="7.90" lengthAdjust="spacingAndGlyphs" stroke="#F2AE62" stroke-width="0.12">36</text>
<text x="435.46" y="637.20" font-size="6.4" text-anchor="middle" fill="#F2AE62" textLength="7.90" lengthAdjust="spacingAndGlyphs" stroke="#F2AE62" stroke-width="0.12">33</text>
<text x="468.30" y="637.20" font-size="6.4" text-anchor="middle" fill="#F2AE62" textLength="7.90" lengthAdjust="spacingAndGlyphs" stroke="#F2AE62" stroke-width="0.12">29</text>
<text x="501.14" y="637.20" font-size="6.4" text-anchor="middle" fill="#F2AE62" textLength="7.90" lengthAdjust="spacingAndGlyphs" stroke="#F2AE62" stroke-width="0.12">26</text>
<text x="291.70" y="647.25" font-size="6.6" text-anchor="end" fill="#22578A" textLength="14.30" lengthAdjust="spacingAndGlyphs" stroke="#22578A" stroke-width="0.12">Adult</text>
<text x="304.10" y="647.25" font-size="6.4" text-anchor="middle" fill="#22578A" textLength="7.90" lengthAdjust="spacingAndGlyphs" stroke="#22578A" stroke-width="0.12">24</text>
<text x="336.94" y="647.25" font-size="6.4" text-anchor="middle" fill="#22578A" textLength="7.90" lengthAdjust="spacingAndGlyphs" stroke="#22578A" stroke-width="0.12">23</text>
<text x="369.78" y="647.25" font-size="6.4" text-anchor="middle" fill="#22578A" textLength="7.90" lengthAdjust="spacingAndGlyphs" stroke="#22578A" stroke-width="0.12">22</text>
<text x="402.62" y="647.25" font-size="6.4" text-anchor="middle" fill="#22578A" textLength="7.90" lengthAdjust="spacingAndGlyphs" stroke="#22578A" stroke-width="0.12">19</text>
<text x="435.46" y="647.25" font-size="6.4" text-anchor="middle" fill="#22578A" textLength="7.90" lengthAdjust="spacingAndGlyphs" stroke="#22578A" stroke-width="0.12">17</text>
<text x="468.30" y="647.25" font-size="6.4" text-anchor="middle" fill="#22578A" textLength="7.90" lengthAdjust="spacingAndGlyphs" stroke="#22578A" stroke-width="0.12">17</text>
<text x="501.14" y="647.25" font-size="6.4" text-anchor="middle" fill="#22578A" textLength="7.90" lengthAdjust="spacingAndGlyphs" stroke="#22578A" stroke-width="0.12">16</text>
<text x="291.70" y="657.30" font-size="6.6" text-anchor="end" fill="#AC1D45" textLength="24.00" lengthAdjust="spacingAndGlyphs" stroke="#AC1D45" stroke-width="0.12">Pediatric</text>
<text x="304.10" y="657.30" font-size="6.4" text-anchor="middle" fill="#AC1D45" textLength="7.90" lengthAdjust="spacingAndGlyphs" stroke="#AC1D45" stroke-width="0.12">26</text>
<text x="336.94" y="657.30" font-size="6.4" text-anchor="middle" fill="#AC1D45" textLength="7.90" lengthAdjust="spacingAndGlyphs" stroke="#AC1D45" stroke-width="0.12">24</text>
<text x="369.78" y="657.30" font-size="6.4" text-anchor="middle" fill="#AC1D45" textLength="7.90" lengthAdjust="spacingAndGlyphs" stroke="#AC1D45" stroke-width="0.12">20</text>
<text x="402.62" y="657.30" font-size="6.4" text-anchor="middle" fill="#AC1D45" textLength="7.90" lengthAdjust="spacingAndGlyphs" stroke="#AC1D45" stroke-width="0.12">17</text>
<text x="435.46" y="657.30" font-size="6.4" text-anchor="middle" fill="#AC1D45" textLength="7.90" lengthAdjust="spacingAndGlyphs" stroke="#AC1D45" stroke-width="0.12">16</text>
<text x="468.30" y="657.30" font-size="6.4" text-anchor="middle" fill="#AC1D45" textLength="7.90" lengthAdjust="spacingAndGlyphs" stroke="#AC1D45" stroke-width="0.12">12</text>
<text x="501.14" y="657.30" font-size="6.4" text-anchor="middle" fill="#AC1D45" textLength="7.90" lengthAdjust="spacingAndGlyphs" stroke="#AC1D45" stroke-width="0.12">10</text>
<path d="M304.50,468.90 H316.20 V470.60 H324.60 V475.60 H338.40 V479.40 H346.80 V481.60 H356.40 V483.70 H365.90 V486.80 H368.00 V491.10 H373.30 V493.20 H379.20 V499.60 H400.80 V504.70 H410.00 V507.70 H417.60 V510.70 H444.60 V513.40 H452.20 V518.60 H458.50 V521.60 H478.00 V525.00 H497.70 V530.10 H510.40" fill="none" stroke="#EC9C40" stroke-width="1.3" stroke-linejoin="miter"/>
<path d="M304.50,468.90 H316.20 V474.15 H356.40 V479.40 H373.30 V484.70 H375.40 V490.00 H379.20 V495.60 H410.00 V501.40 H417.60 V507.20 H478.00 V512.80 H510.40" fill="none" stroke="#22578A" stroke-width="1.3" stroke-linejoin="miter"/>
<path d="M304.50,468.90 H324.60 V478.40 H338.40 V483.20 H346.80 V487.90 H365.90 V494.20 H368.00 V499.10 H376.40 V503.40 H399.00 V508.90 H404.70 V514.60 H444.60 V519.20 H452.20 V530.80 H458.50 V536.60 H497.70 V546.90 H510.40" fill="none" stroke="#AC1D45" stroke-width="1.3" stroke-linejoin="miter"/>
<rect x="0.5" y="0.5" width="519" height="664" fill="none" stroke="#5e5e5e" stroke-width="1.05"/>
</svg></body></html>
